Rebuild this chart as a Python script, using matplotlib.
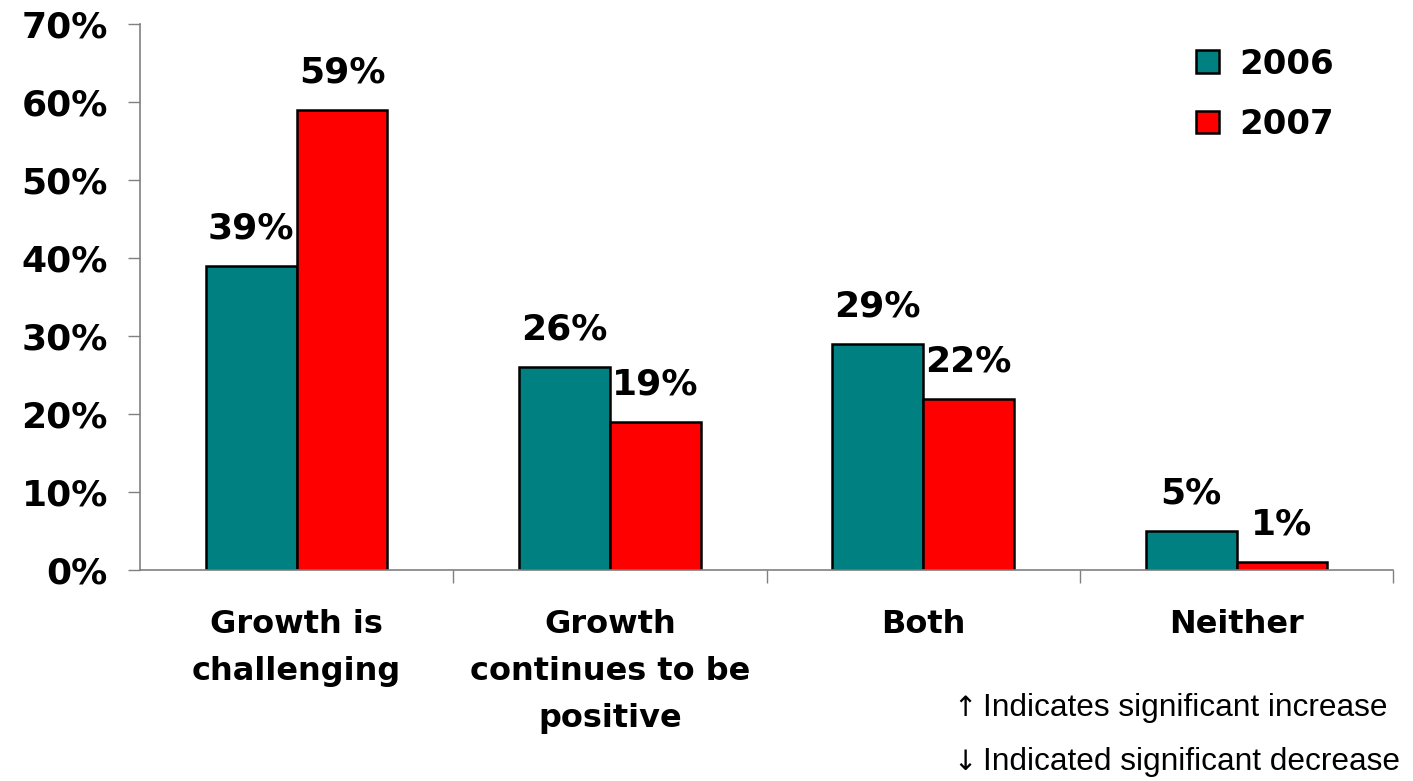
import matplotlib.pyplot as plt
import numpy as np

# data
categories = ["Growth is\nchallenging", "Growth\ncontinues to be\npositive", "Both", "Neither"]
years = ["2006", "2007"]
vals_2006 = [39, 26, 29, 5]
vals_2007 = [59, 19, 22, 1]
yticks = [0, 10, 20, 30, 40, 50, 60, 70]

colors = ["#008080", "#FF0000"]

fig = plt.figure(figsize=(14.13, 7.81), dpi=100)
ax = fig.add_axes([0.099, 0.270, 0.887, 0.699])

x = np.arange(len(categories))
w = 0.29
bars1 = ax.bar(x - w / 2, vals_2006, w, color=colors[0], edgecolor="black", linewidth=1.8, label=years[0])
bars2 = ax.bar(x + w / 2, vals_2007, w, color=colors[1], edgecolor="black", linewidth=1.8, label=years[1])

# value labels
for bars in (bars1, bars2):
    for b in bars:
        h = b.get_height()
        ax.annotate(f"{h:.0f}%", (b.get_x() + b.get_width() / 2, h),
                    xytext=(0, 27), textcoords="offset points",
                    ha="center", va="center", fontsize=26, fontweight="bold")

ax.set_xlim(-0.5, len(categories) - 0.5)
ax.set_ylim(0, 70)
ax.set_yticks(yticks)
ax.set_yticklabels([f"{t}%" for t in yticks], fontsize=26, fontweight="bold")
ax.tick_params(axis="y", length=9, width=1, color="#808080", pad=14)

ax.set_xticks(x)
ax.set_xticklabels(categories, fontsize=23, fontweight="bold", linespacing=1.66, va="top")
ax.tick_params(axis="x", which="major", length=0, pad=28)
ax.set_xticks(np.arange(len(categories)) + 0.5, minor=True)
ax.tick_params(axis="x", which="minor", length=9, width=1, color="#808080")

for s in ["top", "right"]:
    ax.spines[s].set_visible(False)
for s in ["left", "bottom"]:
    ax.spines[s].set_color("#808080")
    ax.spines[s].set_linewidth(1.2)

leg = ax.legend(loc="upper right", bbox_to_anchor=(0.977, 1.013), frameon=False,
                prop={"size": 24.5, "weight": "bold"}, handlelength=0.65, handleheight=0.65,
                labelspacing=0.8, handletextpad=0.6)

# significance notes (arrow drawn separately so it gets the heavier glyph)
notes = [("\u2191", "Indicates significant increase", 0.094),
         ("\u2193", "Indicated significant decrease", 0.024)]
for arrow, txt, yy in notes:
    fig.text(0.675, yy, arrow, fontsize=20, family="DejaVu Sans", ha="left", va="center")
    fig.text(0.6955, yy, txt, fontsize=22.8, family="Liberation Sans", ha="left", va="center")

fig.savefig("out.png", dpi=100)
